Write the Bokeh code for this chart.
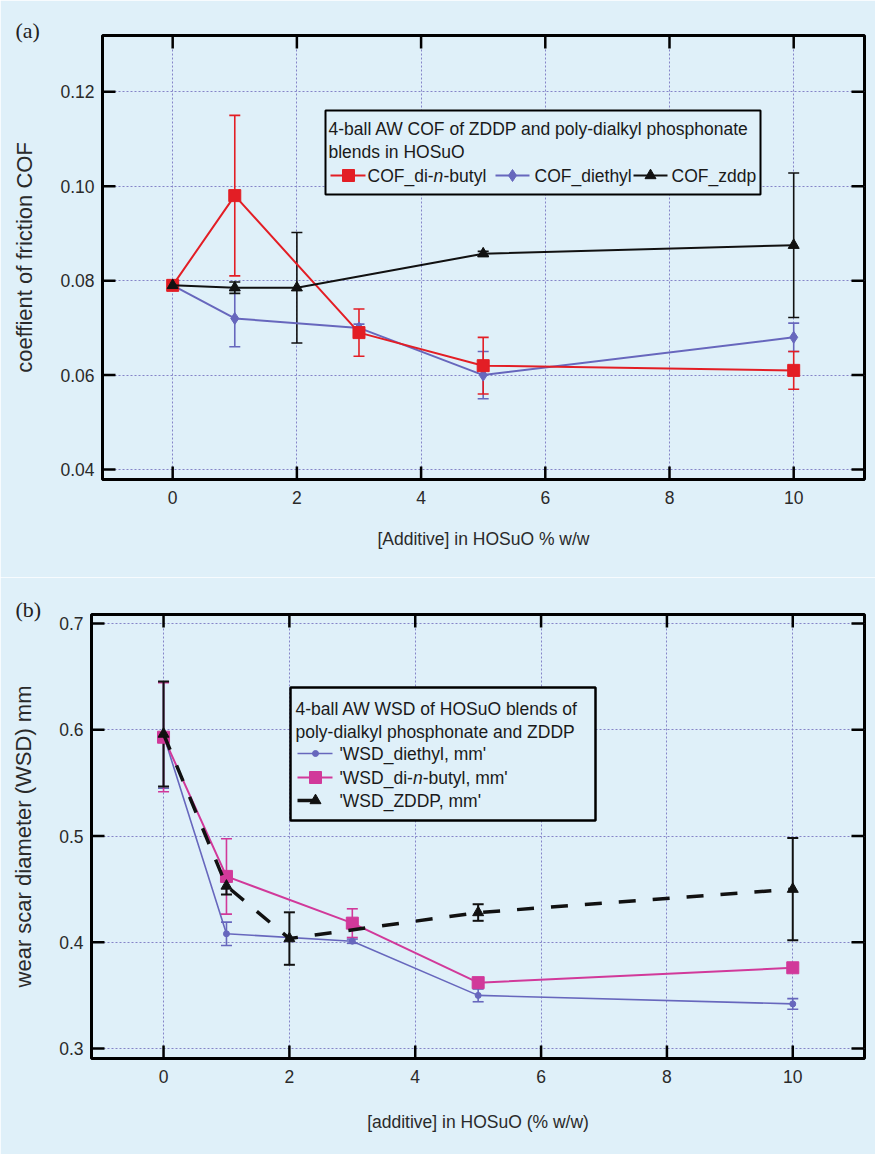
from bokeh.plotting import figure
from bokeh.models import (ColumnDataSource, Whisker, TeeHead, FixedTicker, NumeralTickFormatter,
                          BoxAnnotation, Label, Range1d)
from bokeh.embed import file_html
from bokeh.resources import INLINE

# ---------------- data ----------------
# panel (a): coefficient of friction
conc_phos = [0, 1, 3, 5, 10]
conc_zddp = [0, 1, 2, 5, 10]
cof_butyl = [0.079, 0.098, 0.069, 0.062, 0.061]
cof_butyl_err = [0.0004, 0.017, 0.005, 0.006, 0.004]
cof_diethyl = [0.079, 0.072, 0.070, 0.060, 0.068]
cof_diethyl_err = [0.0004, 0.006, 0.0008, 0.005, 0.003]
cof_zddp = [0.079, 0.0785, 0.0785, 0.0857, 0.0875]
cof_zddp_err = [0.0004, 0.0012, 0.0117, 0.0005, 0.0153]

# panel (b): wear scar diameter (mm)
wsd_diethyl = [0.595, 0.408, 0.401, 0.350, 0.342]
wsd_diethyl_err = [0.05, 0.011, 0.002, 0.006, 0.005]
wsd_butyl = [0.593, 0.462, 0.418, 0.362, 0.376]
wsd_butyl_err = [0.0513, 0.0355, 0.0135, 0.003, 0.003]
wsd_zddp = [0.596, 0.453, 0.4035, 0.428, 0.450]
wsd_zddp_err = [0.0495, 0.008, 0.0247, 0.0078, 0.0482]

x_ticks = [0, 2, 4, 6, 8, 10]
cof_ticks = [0.04, 0.06, 0.08, 0.10, 0.12]
wsd_ticks = [0.3, 0.4, 0.5, 0.6, 0.7]

BG = "#dff0f9"
FONT = "Liberation Sans"
TXT = "#2a2a2a"
RED = "#e31e25"
BLUE = "#6767bd"
MAG = "#d1399a"
BLK = "#111111"
TICK_LEN = 13  # px


def mapper(frame, xr, yr):
    L, R, T, B = frame

    def fx(px):
        return xr[0] + (px - L) / (R - L) * (xr[1] - xr[0])

    def fy(py):
        return yr[1] - (py - T) / (B - T) * (yr[1] - yr[0])
    return fx, fy


def style_axis(ax, ticks, fmt):
    ax.ticker = FixedTicker(ticks=ticks)
    ax.formatter = NumeralTickFormatter(format=fmt)
    ax.axis_line_color = "black"
    ax.axis_line_width = 2
    ax.major_tick_in = 0
    ax.major_tick_out = 0
    ax.minor_tick_line_color = None
    ax.major_label_text_font = FONT
    ax.major_label_text_font_size = "17.5px"
    ax.major_label_text_color = TXT


def base_fig(height, top_px, frame, xr, yr, yticks, yfmt, xlabel, ylabel, tag,
             xlab_so, ylab_so):
    L, R, T, B = frame
    p = figure(width=875, height=height, x_range=Range1d(*xr), y_range=Range1d(*yr),
               output_backend="svg", toolbar_location=None,
               min_border_left=L - 8, min_border_right=883 - R,
               min_border_top=T - top_px, min_border_bottom=top_px + height - B,
               background_fill_color=BG, border_fill_color=BG)
    p.outline_line_color = "black"
    p.outline_line_width = 3
    p.outline_line_alpha = 1
    style_axis(p.xaxis[0], x_ticks, "0")
    style_axis(p.yaxis[0], yticks, yfmt)
    p.xaxis[0].major_label_standoff = 11
    p.yaxis[0].major_label_standoff = 8
    p.xaxis[0].axis_label = xlabel
    p.yaxis[0].axis_label = ylabel
    for ax, size, so in ((p.xaxis[0], "17.5px", xlab_so), (p.yaxis[0], "22px", ylab_so)):
        ax.axis_label_text_font = FONT
        ax.axis_label_text_font_size = size
        ax.axis_label_text_font_style = "normal"
        ax.axis_label_text_color = TXT
        ax.axis_label_standoff = so
    p.xgrid.ticker = FixedTicker(ticks=x_ticks)
    p.ygrid.ticker = FixedTicker(ticks=yticks)
    for g in (p.xgrid, p.ygrid):
        g.grid_line_color = "#8585c8"
        g.grid_line_dash = "2 2"
        g.grid_line_width = 1
    # panel tag "(a)" / "(b)" as the title, pulled to the left edge
    p.title.text = tag
    p.title.align = "left"
    p.title.text_font = "Liberation Serif"
    p.title.text_font_size = "22px"
    p.title.text_font_style = "normal"
    p.title.text_color = "#222222"
    p.title.offset = 23 - L
    try:
        p.title.standoff = -14
    except Exception:
        pass
    # inward ticks on all four sides, built from the tick arrays
    dx = (xr[1] - xr[0]) / (R - L) * TICK_LEN
    dy = (yr[1] - yr[0]) / (B - T) * TICK_LEN
    nx, ny = len(x_ticks), len(yticks)
    kw = dict(line_color="black", line_width=2.5)
    p.segment(x0=x_ticks, y0=[yr[0]] * nx, x1=x_ticks, y1=[yr[0] + dy] * nx, **kw)
    p.segment(x0=x_ticks, y0=[yr[1]] * nx, x1=x_ticks, y1=[yr[1] - dy] * nx, **kw)
    p.segment(x0=[xr[0]] * ny, y0=yticks, x1=[xr[0] + dx] * ny, y1=yticks, **kw)
    p.segment(x0=[xr[1]] * ny, y0=yticks, x1=[xr[1] - dx] * ny, y1=yticks, **kw)
    return p


def series(p, x, y, err, color, marker, size, lw, dash="solid", elw=1.6, cap=11):
    src = ColumnDataSource(dict(x=x, y=y,
                                lo=[a - e for a, e in zip(y, err)],
                                hi=[a + e for a, e in zip(y, err)]))
    p.line("x", "y", source=src, line_color=color, line_width=lw, line_dash=dash)
    p.scatter("x", "y", source=src, marker=marker, size=size, fill_color=color, line_color=color)
    p.add_layout(Whisker(source=src, base="x", upper="hi", lower="lo", dimension="height",
                         line_color=color, line_width=elw,
                         upper_head=TeeHead(size=cap, line_color=color, line_width=elw),
                         lower_head=TeeHead(size=cap, line_color=color, line_width=elw)))


def text(p, fx, fy, px, py, s, size="17.5px", style="normal", font=FONT, color="#1a1a1a"):
    p.add_layout(Label(x=fx(px), y=fy(py), text=s, text_font=font, text_font_size=size,
                       text_font_style=style, text_color=color,
                       text_baseline="middle", text_align="left"))


def legend_box(p, fx, fy, l, r, t, b, lw):
    p.add_layout(BoxAnnotation(left=fx(l), right=fx(r), top=fy(t), bottom=fy(b),
                               fill_color=BG, fill_alpha=1, line_color="black",
                               line_alpha=1, line_width=lw, level="underlay"))


# ---------------- panel (a) ----------------
fa = (110, 872, 43, 487)
xra = (-1.13, 11.14)
yra = (0.0379, 0.1319)
pa = base_fig(577, 8, fa, xra, yra, cof_ticks, "0.00",
              "[Additive] in HOSuO % w/w", "coeffient of friction COF", "(a)", 22, 20)
fxa, fya = mapper(fa, xra, yra)

legend_box(pa, fxa, fya, 333, 768, 118, 202, 2)

series(pa, conc_phos, cof_diethyl, cof_diethyl_err, BLUE, "diamond", 12, 2)
series(pa, conc_phos, cof_butyl, cof_butyl_err, RED, "square", 12, 2)
series(pa, conc_zddp, cof_zddp, cof_zddp_err, BLK, "triangle", 11, 2)

# legend (a)
text(pa, fxa, fya, 336, 136, "4-ball AW COF of ZDDP and poly-dialkyl phosphonate")
text(pa, fxa, fya, 336, 159, "blends in HOSuO")
ly = fya(183)
pa.line([fxa(338), fxa(373)], [ly, ly], line_color=RED, line_width=2)
pa.scatter([fxa(356)], [ly], marker="square", size=12, color=RED)
text(pa, fxa, fya, 375, 183, "COF_di-")
text(pa, fxa, fya, 441, 183, "n", style="italic")
text(pa, fxa, fya, 451, 183, "-butyl")
pa.line([fxa(503), fxa(537)], [ly, ly], line_color=BLUE, line_width=2)
pa.scatter([fxa(520)], [ly], marker="diamond", size=12, color=BLUE)
text(pa, fxa, fya, 542, 183, "COF_diethyl")
pa.line([fxa(641), fxa(675)], [ly, ly], line_color=BLK, line_width=2)
pa.scatter([fxa(658)], [ly], marker="triangle", size=11, color=BLK)
text(pa, fxa, fya, 679, 183, "COF_zddp")

# ---------------- panel (b) ----------------
fb = (99, 872, 622, 1066)
xrb = (-1.145, 11.14)
yrb = (0.2906, 0.7085)
pb = base_fig(577, 585, fb, xrb, yrb, wsd_ticks, "0.0",
              "[additive] in HOSuO (% w/w)", "wear scar diameter (WSD) mm", "(b)", 26, 20)
fxb, fyb = mapper(fb, xrb, yrb)

legend_box(pb, fxb, fyb, 298, 603, 695, 828, 2.5)

series(pb, conc_phos, wsd_diethyl, wsd_diethyl_err, BLUE, "circle", 6, 1.6, elw=1.6)
series(pb, conc_phos, wsd_butyl, wsd_butyl_err, MAG, "square", 12, 2, elw=1.6)
series(pb, conc_zddp, wsd_zddp, wsd_zddp_err, BLK, "triangle", 11, 3.5, dash="17 17", elw=2)

# legend (b)
text(pb, fxb, fyb, 303, 716, "4-ball AW WSD of HOSuO blends of")
text(pb, fxb, fyb, 303, 739, "poly-dialkyl phosphonate and ZDDP")
y1, y2, y3 = fyb(761), fyb(785), fyb(808)
pb.line([fxb(305), fxb(340)], [y1, y1], line_color=BLUE, line_width=1.6)
pb.scatter([fxb(323)], [y1], marker="circle", size=6, color=BLUE)
text(pb, fxb, fyb, 347, 761, "'WSD_diethyl, mm'")
pb.line([fxb(305), fxb(340)], [y2, y2], line_color=MAG, line_width=2)
pb.scatter([fxb(323)], [y2], marker="square", size=12, color=MAG)
text(pb, fxb, fyb, 347, 785, "'WSD_di-")
text(pb, fxb, fyb, 420.5, 785, "n", style="italic")
text(pb, fxb, fyb, 430.2, 785, "-butyl, mm'")
pb.line([fxb(305), fxb(322)], [y3, y3], line_color=BLK, line_width=3.5)
pb.scatter([fxb(323)], [y3], marker="triangle", size=11, color=BLK)
text(pb, fxb, fyb, 347, 808, "'WSD_ZDDP, mm'")

open("out.html", "w").write(file_html([pa, pb], INLINE))
